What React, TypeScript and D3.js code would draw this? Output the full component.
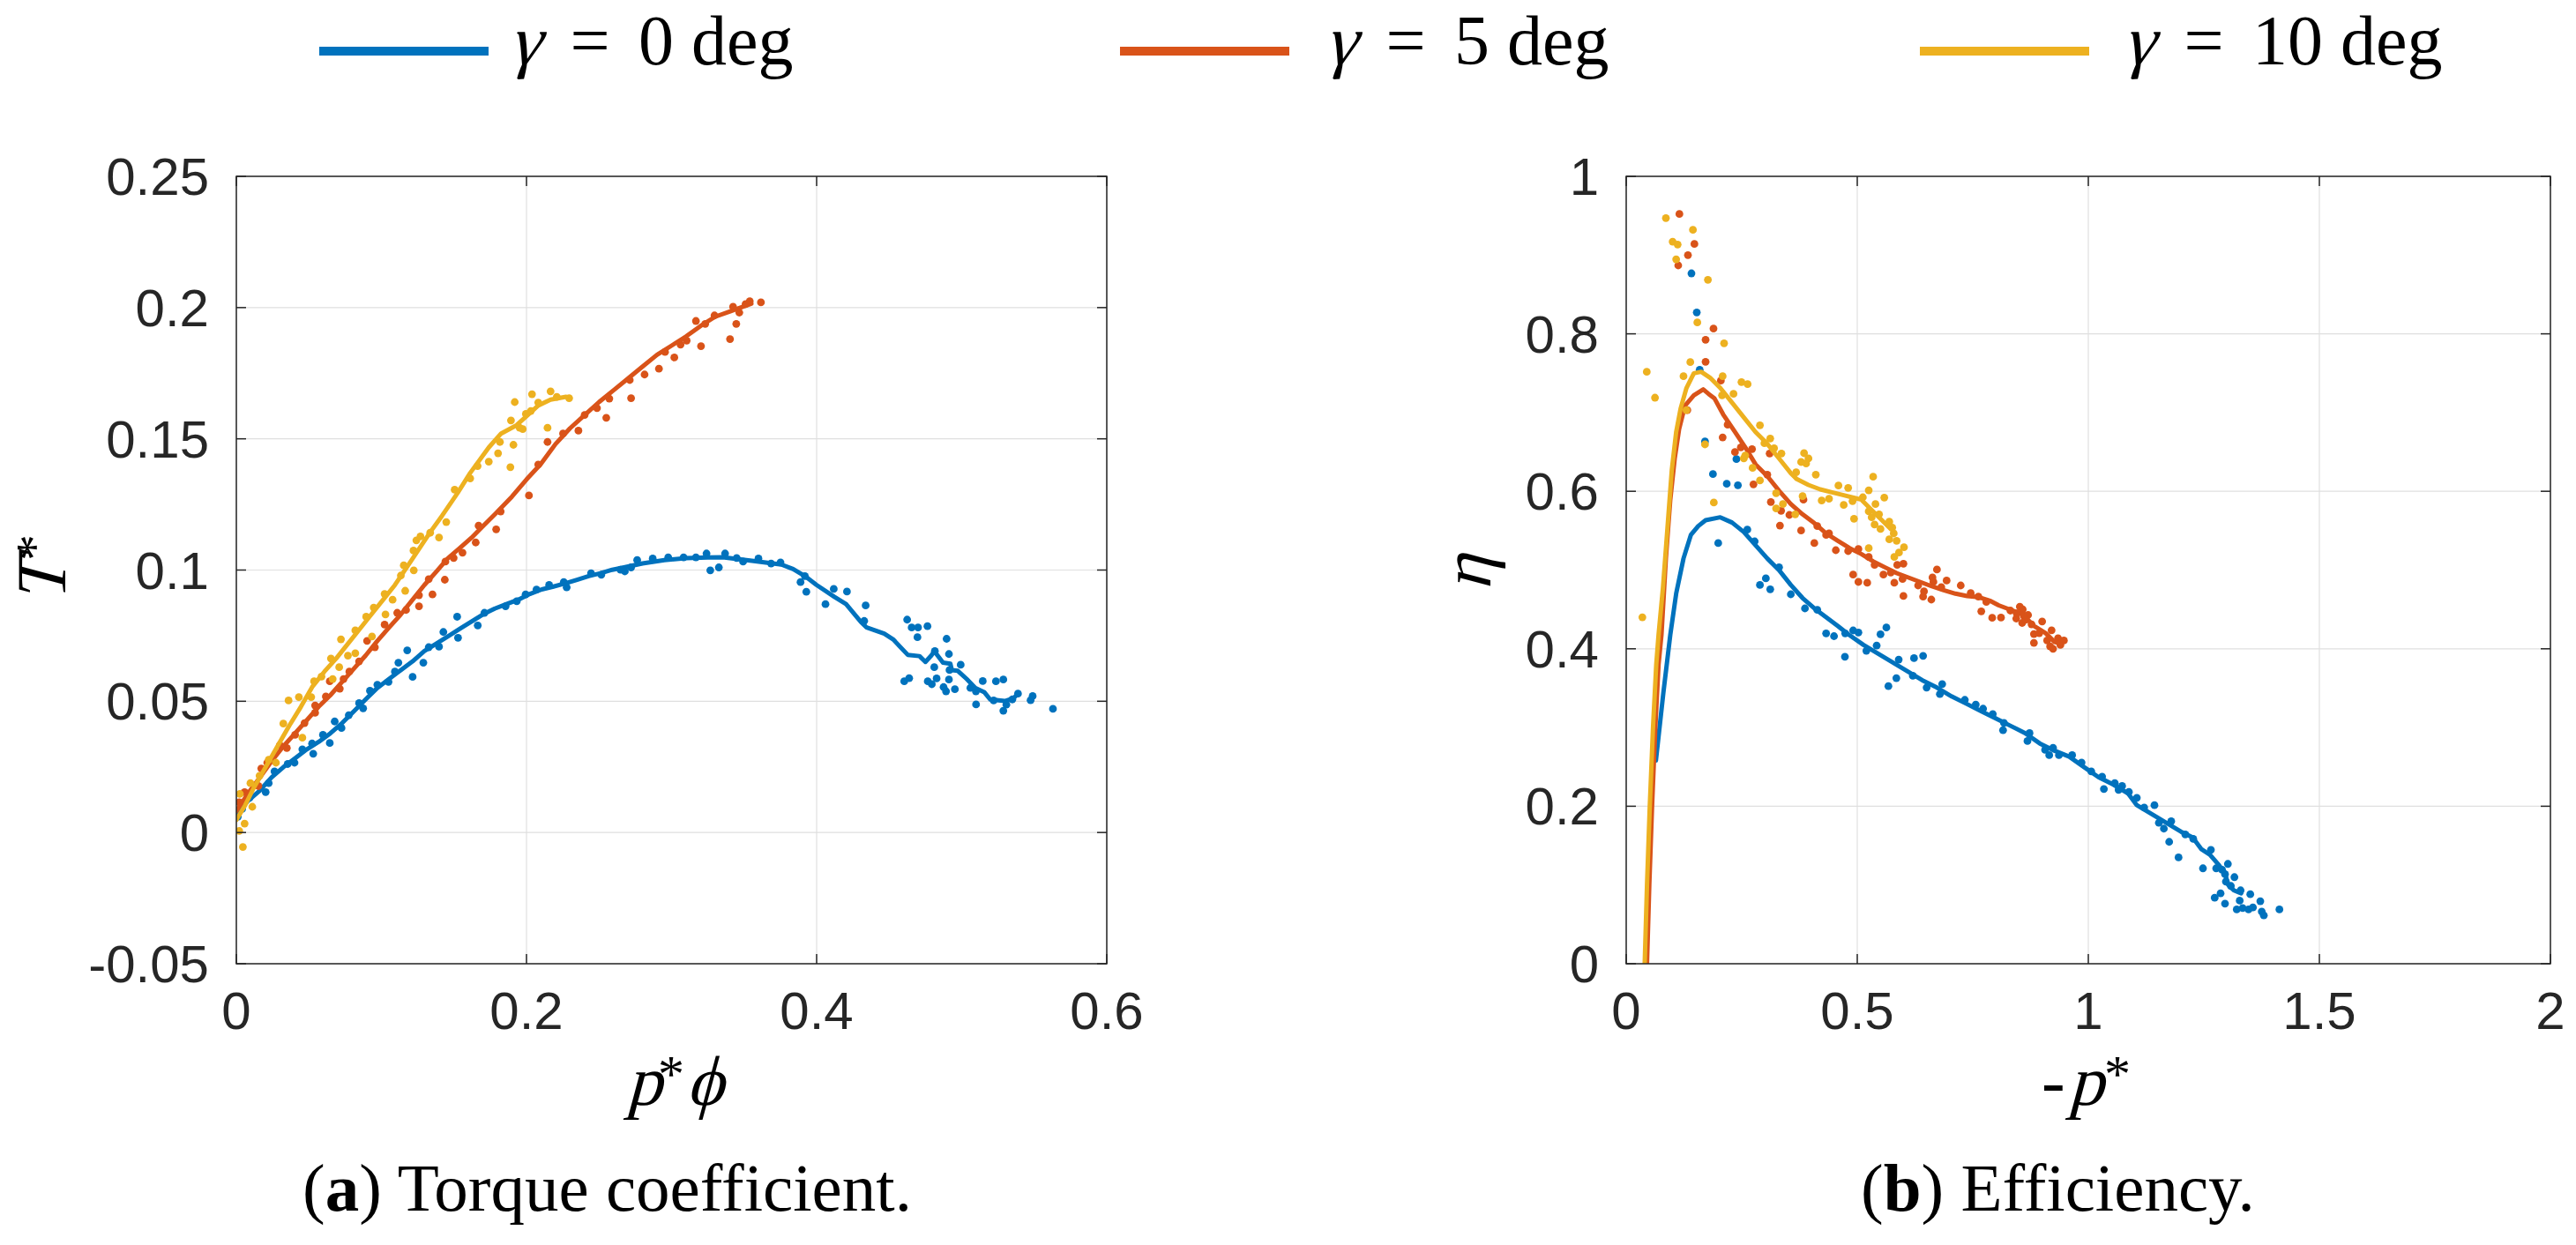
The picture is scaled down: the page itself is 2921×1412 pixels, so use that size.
import * as d3 from "d3";
import { useEffect } from "react";

type Pt = [number, number];

const W = 2921;
const H = 1412;

const colors = ["#0072BD", "#D95319", "#EDB120"];
const gammaValues = [0, 5, 10];

// (a) torque coefficient T* against p*phi
const torqueTicksX = [0, 0.2, 0.4, 0.6];
const torqueTicksY = [-0.05, 0, 0.05, 0.1, 0.15, 0.2, 0.25];

const torqueLine0: Pt[] = [
  [0, 0.007], [0.0081, 0.0121], [0.0162, 0.016], [0.0243, 0.021], [0.0324, 0.0249], [0.0405, 0.0283],
  [0.0486, 0.0317], [0.0567, 0.0345], [0.0648, 0.0378], [0.0729, 0.0417], [0.081, 0.0462], [0.0891, 0.0507],
  [0.0972, 0.0551], [0.1053, 0.0585], [0.1134, 0.0619], [0.1215, 0.0652], [0.1296, 0.0691], [0.1377, 0.0719],
  [0.1457, 0.0747], [0.1538, 0.0775], [0.1619, 0.0803], [0.17, 0.0831], [0.1781, 0.0853], [0.1862, 0.087],
  [0.1943, 0.0887], [0.2024, 0.0909], [0.2105, 0.0926], [0.2186, 0.0937], [0.2267, 0.0949], [0.2348, 0.0963],
  [0.2429, 0.0977], [0.251, 0.0988], [0.2591, 0.1001], [0.2672, 0.101], [0.28, 0.1025], [0.295, 0.1038],
  [0.31, 0.1045], [0.325, 0.1048], [0.3352, 0.1049], [0.3554, 0.1035], [0.3757, 0.1021], [0.3838, 0.1004],
  [0.3919, 0.0977], [0.4, 0.0943], [0.4122, 0.0898], [0.4203, 0.087], [0.4304, 0.0803], [0.4345, 0.0781],
  [0.4466, 0.0758], [0.4527, 0.0736], [0.4628, 0.0677], [0.4709, 0.0672], [0.475, 0.065], [0.479, 0.0674],
  [0.4811, 0.0691], [0.4871, 0.0647], [0.4922, 0.0643], [0.4932, 0.0619], [0.4973, 0.0616], [0.5034, 0.0585],
  [0.5094, 0.0551], [0.5155, 0.0535], [0.5196, 0.0507], [0.5297, 0.0501], [0.5358, 0.0512], [0.5388, 0.0529],
];

const torqueLine5: Pt[] = [
  [0, 0.0082], [0.0081, 0.0149], [0.0162, 0.021], [0.0243, 0.0272], [0.0324, 0.0328], [0.0405, 0.0378],
  [0.0486, 0.0428], [0.0567, 0.0479], [0.0648, 0.0523], [0.0729, 0.0574], [0.081, 0.0624], [0.0891, 0.0674],
  [0.0972, 0.073], [0.1053, 0.0781], [0.1134, 0.0831], [0.1215, 0.0887], [0.1296, 0.0943], [0.1377, 0.0993],
  [0.1457, 0.1044], [0.1538, 0.1083], [0.1619, 0.1122], [0.17, 0.1167], [0.1781, 0.1212], [0.19, 0.128],
  [0.2, 0.1345], [0.21, 0.1405], [0.22, 0.148], [0.23, 0.154], [0.24, 0.159], [0.25, 0.164], [0.26, 0.1685],
  [0.27, 0.173], [0.28, 0.1775], [0.29, 0.182], [0.3, 0.1855], [0.31, 0.189], [0.32, 0.193], [0.33, 0.1965],
  [0.34, 0.1985], [0.35, 0.2005], [0.355, 0.2015],
];

const torqueLine10: Pt[] = [
  [0, 0.0048], [0.0061, 0.0104], [0.0121, 0.0171], [0.0202, 0.0249], [0.0283, 0.0328], [0.0364, 0.0406],
  [0.0445, 0.0479], [0.0526, 0.0557], [0.0607, 0.0613], [0.0688, 0.0663], [0.0769, 0.0719], [0.085, 0.0775],
  [0.0931, 0.0831], [0.1012, 0.0887], [0.1093, 0.0943], [0.1174, 0.101], [0.1255, 0.1077], [0.1336, 0.1144],
  [0.1417, 0.1206], [0.1527, 0.1295], [0.1612, 0.137], [0.174, 0.1467], [0.1825, 0.152], [0.1932, 0.1552],
  [0.1996, 0.1584], [0.2081, 0.1627], [0.2166, 0.1649], [0.2273, 0.166],
];

const torqueDots0: Pt[] = [
  [0.001, 0.006], [0.004, 0.009], [0.0091, 0.0132], [0.0202, 0.0154], [0.0223, 0.0188], [0.0263, 0.0233],
  [0.0354, 0.0261], [0.0401, 0.0266], [0.0455, 0.0317], [0.053, 0.03], [0.0522, 0.0339], [0.0597, 0.0372],
  [0.0644, 0.0341], [0.0678, 0.0423], [0.0725, 0.0398], [0.0775, 0.0447], [0.0846, 0.0493], [0.0874, 0.0473],
  [0.0921, 0.054], [0.0972, 0.0563], [0.1049, 0.0574], [0.1093, 0.0613], [0.1117, 0.0647], [0.1178, 0.0694],
  [0.1215, 0.0593], [0.1289, 0.0647], [0.1326, 0.0706], [0.1397, 0.0708], [0.1427, 0.0764], [0.1522, 0.0822],
  [0.1528, 0.0742], [0.1664, 0.0789], [0.171, 0.0837], [0.1856, 0.0862], [0.1933, 0.0881], [0.1994, 0.0907],
  [0.2069, 0.0926], [0.2156, 0.0943], [0.2277, 0.0934], [0.2257, 0.0954], [0.2445, 0.0988], [0.2516, 0.0982],
  [0.2648, 0.1001], [0.2678, 0.0995], [0.2721, 0.101], [0.2763, 0.1038], [0.287, 0.1044], [0.2977, 0.1048],
  [0.3083, 0.1048], [0.3168, 0.1048], [0.3241, 0.1063], [0.3267, 0.0999], [0.3326, 0.101], [0.3369, 0.1063],
  [0.3449, 0.1046], [0.3493, 0.1032], [0.3599, 0.1044], [0.3686, 0.1025], [0.3751, 0.1029], [0.3889, 0.0954],
  [0.3929, 0.0917], [0.3919, 0.0977], [0.4061, 0.087], [0.4118, 0.0928], [0.4209, 0.0918], [0.4338, 0.0865],
  [0.4328, 0.0806], [0.4624, 0.0811], [0.4655, 0.0781], [0.4699, 0.0781], [0.4764, 0.0786], [0.4695, 0.0744],
  [0.4604, 0.0576], [0.4638, 0.0588], [0.4815, 0.0691], [0.4896, 0.0738], [0.4912, 0.068], [0.4811, 0.063],
  [0.4827, 0.0587], [0.4766, 0.0576], [0.4794, 0.0565], [0.4875, 0.0554], [0.4892, 0.0538], [0.4953, 0.0546],
  [0.4912, 0.0583], [0.4993, 0.0639], [0.4916, 0.0619], [0.506, 0.0551], [0.5098, 0.0538], [0.5145, 0.0577],
  [0.5099, 0.0488], [0.5236, 0.0576], [0.5287, 0.0583], [0.522, 0.0503], [0.5287, 0.0464], [0.5308, 0.0487],
  [0.5349, 0.0507], [0.5388, 0.0529], [0.5475, 0.0504], [0.5489, 0.052], [0.5629, 0.0471],
];

const torqueDots5: Pt[] = [
  [0.002, 0.0115], [0.0057, 0.0154], [0.0152, 0.0177], [0.0172, 0.0244], [0.0213, 0.0266], [0.03, 0.0333],
  [0.0348, 0.0322], [0.0405, 0.0372], [0.047, 0.0417], [0.0543, 0.0456], [0.0543, 0.0484], [0.0617, 0.0518],
  [0.0644, 0.0576], [0.0713, 0.0548], [0.0739, 0.0585], [0.0779, 0.0613], [0.0846, 0.0652], [0.0901, 0.073],
  [0.0955, 0.0706], [0.1022, 0.0792], [0.1109, 0.0837], [0.117, 0.0848], [0.1259, 0.0862], [0.1259, 0.0904],
  [0.1352, 0.0907], [0.1326, 0.0965], [0.1437, 0.0963], [0.1441, 0.1032], [0.1498, 0.1046], [0.1559, 0.1066],
  [0.165, 0.1105], [0.167, 0.1169], [0.1791, 0.1155], [0.1822, 0.1223], [0.2017, 0.1284], [0.2081, 0.1402],
  [0.2145, 0.1488], [0.2252, 0.152], [0.2358, 0.1531], [0.2401, 0.1591], [0.2486, 0.1617], [0.255, 0.158],
  [0.2571, 0.1653], [0.2721, 0.1655], [0.2712, 0.1724], [0.2814, 0.1745], [0.2913, 0.1767], [0.2955, 0.1831],
  [0.3019, 0.181], [0.3062, 0.1859], [0.3104, 0.1874], [0.3168, 0.1949], [0.3203, 0.1853], [0.3232, 0.1938],
  [0.3296, 0.197], [0.3403, 0.188], [0.3424, 0.2003], [0.3467, 0.1981], [0.351, 0.2013], [0.3539, 0.2024],
  [0.3616, 0.202], [0.3446, 0.1938],
];

const torqueDots10: Pt[] = [
  [0.0045, -0.0055], [0.002, 0.0006], [0.0057, 0.0034], [0.0024, 0.0147], [0.011, 0.0098], [0.0097, 0.0188],
  [0.016, 0.0216], [0.0223, 0.0277], [0.0273, 0.0266], [0.0324, 0.0415], [0.036, 0.0503], [0.0431, 0.0516],
  [0.0455, 0.0361], [0.0516, 0.0516], [0.0536, 0.0576], [0.0587, 0.0594], [0.0652, 0.0663], [0.0664, 0.0585],
  [0.0709, 0.063], [0.0721, 0.0736], [0.0769, 0.0674], [0.082, 0.0683], [0.082, 0.077], [0.0895, 0.0822],
  [0.0935, 0.0747], [0.0947, 0.0857], [0.1022, 0.0909], [0.1028, 0.0831], [0.1077, 0.0887], [0.1134, 0.0979],
  [0.1154, 0.1018], [0.1164, 0.0921], [0.1221, 0.1074], [0.1223, 0.0999], [0.1241, 0.1113], [0.1269, 0.1128],
  [0.1336, 0.1142], [0.1397, 0.1124], [0.1447, 0.1183], [0.1505, 0.1306], [0.1612, 0.1349], [0.1663, 0.1396],
  [0.174, 0.1413], [0.1804, 0.1445], [0.1817, 0.1488], [0.1889, 0.1392], [0.191, 0.1477], [0.1893, 0.157],
  [0.1953, 0.1542], [0.1919, 0.164], [0.203, 0.1606], [0.2038, 0.167], [0.2081, 0.1638], [0.2145, 0.1542],
  [0.2166, 0.1681], [0.2209, 0.166], [0.2294, 0.1655], [0.1996, 0.1595], [0.1974, 0.1537],
];

// (b) efficiency eta against -p*
const effTicksX = [0, 0.5, 1, 1.5, 2];
const effTicksY = [0, 0.2, 0.4, 0.6, 0.8, 1];

const effLine0: Pt[] = [
  [0.0643, 0.2582], [0.0804, 0.344], [0.0954, 0.4177], [0.1081, 0.47],
  [0.124, 0.5147], [0.1399, 0.5446], [0.1559, 0.5558], [0.1718, 0.5633], [0.2036, 0.567], [0.229, 0.5603],
  [0.2545, 0.5483], [0.2799, 0.5315], [0.3053, 0.5147], [0.3308, 0.4998], [0.3562, 0.4811], [0.3817, 0.4644],
  [0.4071, 0.4513], [0.4326, 0.4401], [0.458, 0.4289], [0.4816, 0.4179], [0.5134, 0.4049], [0.5452, 0.3937],
  [0.577, 0.3825], [0.6088, 0.3713], [0.6406, 0.3601], [0.6724, 0.3507], [0.7042, 0.3395], [0.7361, 0.3302],
  [0.7678, 0.3209], [0.7996, 0.3115], [0.8314, 0.3022], [0.8632, 0.2929], [0.895, 0.2798], [0.9269, 0.2705],
  [0.9587, 0.263], [0.9905, 0.2499], [1.0223, 0.2369], [1.0541, 0.2276], [1.0859, 0.2164], [1.105, 0.2014],
  [1.1368, 0.1902], [1.1686, 0.179], [1.2004, 0.1678], [1.2258, 0.1604], [1.2449, 0.1454], [1.264, 0.138],
  [1.2831, 0.1249], [1.2958, 0.1156], [1.3022, 0.1006], [1.3149, 0.0932], [1.3308, 0.0894],
];

const effLine5: Pt[] = [
  [0.045, 0], [0.05, 0.1], [0.056, 0.2], [0.063, 0.3], [0.07, 0.38], [0.0763, 0.4177], [0.0859, 0.5147],
  [0.0954, 0.5894], [0.105, 0.6417], [0.1145, 0.679], [0.1272, 0.7088], [0.1463, 0.7219], [0.1667, 0.7294],
  [0.1781, 0.7238], [0.1908, 0.7182], [0.2099, 0.6976], [0.2354, 0.6753], [0.2608, 0.6529], [0.2799, 0.6342],
  [0.3053, 0.6193], [0.3308, 0.6006], [0.3562, 0.5838], [0.3817, 0.5707], [0.4071, 0.5595], [0.4326, 0.5465],
  [0.458, 0.5371], [0.4835, 0.5278], [0.5089, 0.5203], [0.5344, 0.511], [0.5598, 0.5035], [0.5852, 0.4961],
  [0.6107, 0.4905], [0.6361, 0.4849], [0.6616, 0.4793], [0.687, 0.4744], [0.7125, 0.47], [0.7379, 0.467],
  [0.7634, 0.4655], [0.7888, 0.4606], [0.806, 0.4552], [0.8314, 0.4496], [0.8569, 0.444], [0.8823, 0.4291],
  [0.9078, 0.4198], [0.9269, 0.4086], [0.9396, 0.4067],
];

const effLine10: Pt[] = [
  [0.04, 0], [0.045, 0.1], [0.051, 0.2], [0.058, 0.3], [0.065, 0.38], [0.07, 0.4177], [0.0795, 0.4774],
  [0.0891, 0.5521], [0.0986, 0.6267], [0.1081, 0.6753], [0.1177, 0.7051], [0.1304, 0.7312], [0.1463, 0.7499],
  [0.1622, 0.7518], [0.1813, 0.7443], [0.2036, 0.7312], [0.229, 0.7126], [0.2545, 0.6939], [0.2799, 0.6753],
  [0.3053, 0.6603], [0.3308, 0.6417], [0.3562, 0.623], [0.369, 0.6155], [0.3944, 0.6081], [0.4198, 0.6025],
  [0.4453, 0.5987], [0.4707, 0.595], [0.4962, 0.5913], [0.5089, 0.5894], [0.528, 0.5782], [0.5471, 0.567],
  [0.5662, 0.5558], [0.5725, 0.5521],
];

const effDots0: Pt[] = [
  [0.1412, 0.8768], [0.1527, 0.8272], [0.159, 0.7544], [0.1705, 0.6633], [0.2385, 0.6409], [0.1877, 0.6219],
  [0.2176, 0.6096], [0.2417, 0.6077], [0.1991, 0.5342], [0.2621, 0.5513], [0.278, 0.5364], [0.3022, 0.4894],
  [0.2894, 0.4811], [0.3117, 0.4756], [0.3308, 0.5035], [0.3562, 0.4692], [0.3868, 0.4513], [0.4135, 0.4494],
  [0.4326, 0.4196], [0.4739, 0.4196], [0.4911, 0.4233], [0.5025, 0.4207], [0.5503, 0.4184], [0.563, 0.427],
  [0.4497, 0.416], [0.4733, 0.3899], [0.5197, 0.3974], [0.542, 0.4041], [0.5897, 0.3862], [0.6228, 0.3881],
  [0.6425, 0.391], [0.5846, 0.3627], [0.5674, 0.3526], [0.6202, 0.3657], [0.6501, 0.3507], [0.6838, 0.3552],
  [0.6788, 0.3425], [0.7328, 0.3351], [0.7564, 0.3291], [0.7723, 0.3239], [0.7933, 0.3171], [0.8155, 0.2966],
  [0.8174, 0.3059], [0.8728, 0.2929], [0.8683, 0.2828], [0.9065, 0.2716], [0.9154, 0.2649], [0.9237, 0.2742],
  [0.9364, 0.2649], [0.965, 0.2649], [0.9854, 0.2555], [1.0064, 0.2443], [1.0299, 0.2376], [1.0337, 0.2219],
  [1.0573, 0.2294], [1.0655, 0.2208], [1.0731, 0.2257], [1.0878, 0.2182], [1.105, 0.2107], [1.1209, 0.1984],
  [1.1431, 0.2014], [1.1527, 0.179], [1.1635, 0.1716], [1.1794, 0.1809], [1.175, 0.1548], [1.1953, 0.135],
  [1.2099, 0.1641], [1.2271, 0.1585], [1.2481, 0.1212], [1.2653, 0.1447], [1.2767, 0.1212], [1.2894, 0.1193],
  [1.302, 0.1268], [1.2958, 0.1137], [1.3162, 0.11], [1.2977, 0.1044], [1.3085, 0.0988], [1.3295, 0.0932],
  [1.3505, 0.0883], [1.2735, 0.0838], [1.2862, 0.0894], [1.2958, 0.0763], [1.3276, 0.0801], [1.334, 0.0708],
  [1.3212, 0.0689], [1.3467, 0.0689], [1.3562, 0.0715], [1.3722, 0.0794], [1.3753, 0.0663], [1.3798, 0.0614],
  [1.4135, 0.0689],
];

const effDots5: Pt[] = [
  [0.1151, 0.9522], [0.1476, 0.9141], [0.1336, 0.9], [0.1126, 0.8869], [0.1889, 0.8066], [0.1718, 0.7925],
  [0.1718, 0.7645], [0.2048, 0.7406], [0.1323, 0.7032], [0.2195, 0.6846], [0.2087, 0.6685], [0.2481, 0.6558],
  [0.2354, 0.6499], [0.2723, 0.6536], [0.3104, 0.648], [0.3053, 0.6211], [0.2754, 0.6088], [0.313, 0.5864],
  [0.3352, 0.5752], [0.3531, 0.57], [0.3836, 0.5894], [0.3327, 0.5565], [0.3785, 0.5502], [0.4071, 0.5342],
  [0.4135, 0.5558], [0.4389, 0.5465], [0.4326, 0.5446], [0.4536, 0.5252], [0.4803, 0.5241], [0.5025, 0.5267],
  [0.5248, 0.5166], [0.4911, 0.4942], [0.5025, 0.4849], [0.5216, 0.4838], [0.5375, 0.5065], [0.5566, 0.4942],
  [0.5725, 0.4968], [0.5802, 0.4838], [0.5865, 0.5065], [0.5999, 0.508], [0.5999, 0.467], [0.598, 0.4886],
  [0.6317, 0.4804], [0.6444, 0.4729], [0.6425, 0.4662], [0.6603, 0.4625], [0.6628, 0.4905], [0.6724, 0.5006],
  [0.6648, 0.4849], [0.6934, 0.4867], [0.6819, 0.4782], [0.7239, 0.4804], [0.7455, 0.4707], [0.7621, 0.4662],
  [0.7684, 0.4476], [0.7793, 0.4595], [0.792, 0.4393], [0.8111, 0.4396], [0.8314, 0.4485], [0.8518, 0.4534],
  [0.8441, 0.4384], [0.86, 0.4422], [0.8569, 0.4328], [0.8696, 0.4429], [0.8772, 0.431], [0.9001, 0.4347],
  [0.8823, 0.4187], [0.8823, 0.4075], [0.8938, 0.4198], [0.9205, 0.4235], [0.9109, 0.4105], [0.9173, 0.403],
  [0.9237, 0.4], [0.9345, 0.4134], [0.9396, 0.4049], [0.9472, 0.4105], [0.845, 0.445], [0.865, 0.437],
  [0.858, 0.45],
];

const effDots10: Pt[] = [
  [0.0859, 0.947], [0.1444, 0.932], [0.1005, 0.9171], [0.1113, 0.9134], [0.1081, 0.8947], [0.1768, 0.8686],
  [0.1539, 0.8145], [0.2118, 0.788], [0.1387, 0.7641], [0.0445, 0.7518], [0.0623, 0.7189], [0.124, 0.7462],
  [0.2087, 0.7462], [0.2494, 0.7387], [0.2627, 0.7361], [0.2322, 0.7238], [0.2074, 0.7219], [0.1304, 0.7032],
  [0.1705, 0.6596], [0.2894, 0.6838], [0.3117, 0.667], [0.32, 0.6547], [0.3359, 0.648], [0.299, 0.6611],
  [0.2545, 0.6417], [0.2576, 0.6454], [0.2735, 0.6297], [0.2894, 0.6137], [0.1896, 0.5857], [0.3849, 0.6484],
  [0.3944, 0.6417], [0.3785, 0.6372], [0.3893, 0.6353], [0.3677, 0.6241], [0.4103, 0.6211], [0.3244, 0.5976],
  [0.3391, 0.5838], [0.3244, 0.5782], [0.3658, 0.5707], [0.3817, 0.5939], [0.423, 0.5883], [0.4389, 0.5905],
  [0.4593, 0.6073], [0.4803, 0.6043], [0.4707, 0.5827], [0.493, 0.5651], [0.4898, 0.5875], [0.5121, 0.5924],
  [0.5248, 0.6013], [0.5344, 0.6185], [0.5585, 0.592], [0.5248, 0.5745], [0.5394, 0.5838], [0.5312, 0.567],
  [0.5471, 0.5707], [0.5375, 0.5577], [0.5503, 0.5521], [0.5693, 0.5614], [0.5757, 0.5539], [0.5789, 0.5465],
  [0.5693, 0.539], [0.5852, 0.5371], [0.6011, 0.5289], [0.5903, 0.5222], [0.5802, 0.5166], [0.5248, 0.5278],
  [0.035, 0.44],
];

const axisColor = "#262626";
const gridColor = "#dfdfdf";
const tickFont = "'Liberation Sans', Arial, Helvetica, sans-serif";
const serifFont = "'Liberation Serif', 'Times New Roman', serif";

// slanted upright serif glyphs, standing in for LaTeX math italic
function Ital(props: { x: number; y: number; size: number; children: string }) {
  return (
    <text transform={`translate(${props.x},${props.y}) skewX(-15)`} fontSize={props.size}>
      {props.children}
    </text>
  );
}

function Panel(props: {
  id: string;
  x: d3.ScaleLinear<number, number>;
  y: d3.ScaleLinear<number, number>;
  xTicks: number[];
  yTicks: number[];
  lines: Pt[][];
  dots: Pt[][];
}) {
  const { id, x, y, xTicks, yTicks, lines, dots } = props;
  const [left, right] = x.range();
  const [bottom, top] = y.range();
  const tick = 11;
  const line = d3
    .line<Pt>()
    .x((d) => x(d[0]))
    .y((d) => y(d[1]));

  return (
    <g>
      <defs>
        <clipPath id={id}>
          <rect x={left} y={top} width={right - left} height={bottom - top} />
        </clipPath>
      </defs>

      {/* grid */}
      {xTicks.map((t) => (
        <line key={"gx" + t} x1={x(t)} x2={x(t)} y1={top} y2={bottom} stroke={gridColor} strokeWidth={1.2} />
      ))}
      {yTicks.map((t) => (
        <line key={"gy" + t} x1={left} x2={right} y1={y(t)} y2={y(t)} stroke={gridColor} strokeWidth={1.2} />
      ))}

      {/* data */}
      <g clipPath={`url(#${id})`}>
        {colors.map((c, i) => (
          <g key={c}>
            {dots[i].map((d, j) => (
              <circle key={j} cx={x(d[0])} cy={y(d[1])} r={4.4} fill={c} />
            ))}
            <path
              d={line(lines[i]) ?? ""}
              fill="none"
              stroke={c}
              strokeWidth={5}
              strokeLinejoin="round"
              strokeLinecap="round"
            />
          </g>
        ))}
      </g>

      {/* ticks on all four sides */}
      {xTicks.map((t) => (
        <g key={"tx" + t} stroke={axisColor} strokeWidth={1.5}>
          <line x1={x(t)} x2={x(t)} y1={bottom} y2={bottom - tick} />
          <line x1={x(t)} x2={x(t)} y1={top} y2={top + tick} />
        </g>
      ))}
      {yTicks.map((t) => (
        <g key={"ty" + t} stroke={axisColor} strokeWidth={1.5}>
          <line x1={left} x2={left + tick} y1={y(t)} y2={y(t)} />
          <line x1={right} x2={right - tick} y1={y(t)} y2={y(t)} />
        </g>
      ))}
      <rect
        x={left}
        y={top}
        width={right - left}
        height={bottom - top}
        fill="none"
        stroke={axisColor}
        strokeWidth={1.5}
      />

      {/* tick labels */}
      {xTicks.map((t) => (
        <text
          key={"lx" + t}
          x={x(t)}
          y={bottom + 74}
          textAnchor="middle"
          fontFamily={tickFont}
          fontSize={60}
          fill={axisColor}
        >
          {String(t)}
        </text>
      ))}
      {yTicks.map((t) => (
        <text
          key={"ly" + t}
          x={left - 31}
          y={y(t) + 21}
          textAnchor="end"
          fontFamily={tickFont}
          fontSize={60}
          fill={axisColor}
        >
          {String(t)}
        </text>
      ))}
    </g>
  );
}

export default function App() {
  useEffect(() => {
    document.body.style.margin = "0";
    document.body.style.overflow = "hidden";
  }, []);

  const xT = d3.scaleLinear().domain([0, 0.6]).range([268, 1255]);
  const yT = d3.scaleLinear().domain([-0.05, 0.25]).range([1093, 200]);
  const xE = d3.scaleLinear().domain([0, 2]).range([1844, 2892]);
  const yE = d3.scaleLinear().domain([0, 1]).range([1093, 200]);

  const legendLineX = [362, 1270, 2177];
  const legendTextX = [573, 1498, 2403];

  return (
    <svg
      width={W}
      height={H}
      viewBox={`0 0 ${W} ${H}`}
      style={{ position: "absolute", left: 0, top: 0, display: "block", background: "#fff" }}
    >
      <rect width={W} height={H} fill="#fff" />

      {/* legend */}
      {gammaValues.map((g, i) => (
        <g key={g} fontFamily={serifFont} fontSize={80} fill="#000">
          <line
            x1={legendLineX[i]}
            x2={legendLineX[i] + 192}
            y1={58}
            y2={58}
            stroke={colors[i]}
            strokeWidth={10}
          />
          <Ital x={legendTextX[i] + 4} y={73} size={80}>
            γ
          </Ital>
          <text x={legendTextX[i] + 96} y={73} textAnchor="middle">
            =
          </text>
          <text x={legendTextX[i] + 151} y={73}>
            {`${g} deg`}
          </text>
        </g>
      ))}

      <Panel
        id="clip-torque"
        x={xT}
        y={yT}
        xTicks={torqueTicksX}
        yTicks={torqueTicksY}
        lines={[torqueLine0, torqueLine5, torqueLine10]}
        dots={[torqueDots0, torqueDots5, torqueDots10]}
      />
      <Panel
        id="clip-eff"
        x={xE}
        y={yE}
        xTicks={effTicksX}
        yTicks={effTicksY}
        lines={[effLine0, effLine5, effLine10]}
        dots={[effDots0, effDots5, effDots10]}
      />

      {/* axis labels */}
      <g fontFamily={serifFont} fill="#000">
        <Ital x={710} y={1253} size={80}>
          p
        </Ital>
        <text x={746} y={1238} fontSize={60}>
          *
        </text>
        <Ital x={778} y={1253} size={80}>
          ϕ
        </Ital>

        <text x={2315} y={1253} fontSize={80}>
          -
        </text>
        <Ital x={2345} y={1253} size={80}>
          p
        </Ital>
        <text x={2386} y={1238} fontSize={60}>
          *
        </text>

        <g transform="translate(74,648) rotate(-90)">
          <Ital x={-36} y={0} size={80}>
            T
          </Ital>
          <text x={12} y={-15} fontSize={60}>
            *
          </text>
        </g>
        <g transform="translate(1690,651) rotate(-90)">
          <Ital x={-20} y={0} size={80}>
            η
          </Ital>
        </g>
      </g>

      {/* captions */}
      <g fontFamily={serifFont} fontSize={77} fill="#000">
        <text x={343} y={1373}>
          (<tspan fontWeight="bold">a</tspan>) Torque coefficient.
        </text>
        <text x={2110} y={1373}>
          (<tspan fontWeight="bold">b</tspan>) Efficiency.
        </text>
      </g>
    </svg>
  );
}
